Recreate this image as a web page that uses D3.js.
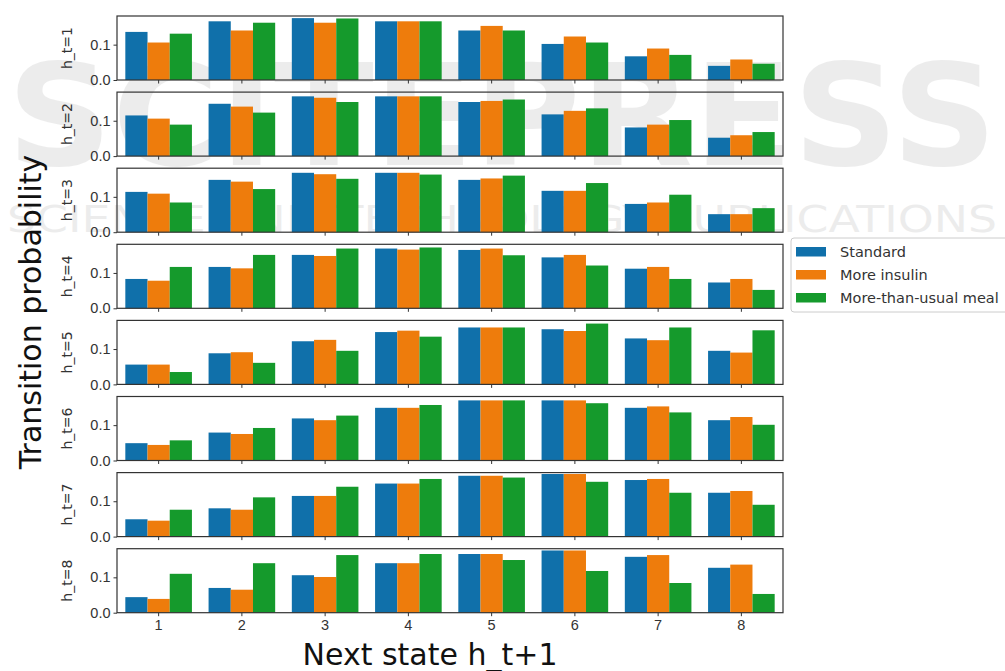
<!DOCTYPE html>
<html>
<head>
<meta charset="utf-8">
<script src="https://cdn.jsdelivr.net/npm/d3@7"></script>
<style>
  body { margin: 0; background: #fff; }
  svg { font-family: "DejaVu Sans", sans-serif; }
</style>
</head>
<body>
<div class="outer-container"></div>
<script>
// next-state categories and current-state panels
const states = ['1', '2', '3', '4', '5', '6', '7', '8']
const panels = ['h_t=1', 'h_t=2', 'h_t=3', 'h_t=4', 'h_t=5', 'h_t=6', 'h_t=7', 'h_t=8']
const seriesNames = ['Standard', 'More insulin', 'More-than-usual meal']
const yTicks = [0.0, 0.1]

// one row per panel, one value per next state
const standard = [
  [0.136, 0.166, 0.175, 0.166, 0.140, 0.102, 0.067, 0.040],
  [0.115, 0.148, 0.169, 0.169, 0.153, 0.118, 0.081, 0.052],
  [0.114, 0.148, 0.168, 0.168, 0.148, 0.117, 0.080, 0.051],
  [0.083, 0.117, 0.151, 0.169, 0.165, 0.144, 0.112, 0.073],
  [0.056, 0.088, 0.122, 0.148, 0.161, 0.156, 0.130, 0.095],
  [0.049, 0.079, 0.119, 0.149, 0.170, 0.170, 0.149, 0.114],
  [0.049, 0.080, 0.115, 0.150, 0.172, 0.177, 0.160, 0.124],
  [0.044, 0.070, 0.106, 0.140, 0.166, 0.176, 0.158, 0.127]
]
const moreInsulin = [
  [0.106, 0.140, 0.162, 0.166, 0.153, 0.123, 0.089, 0.058],
  [0.106, 0.140, 0.165, 0.169, 0.156, 0.128, 0.089, 0.059],
  [0.109, 0.143, 0.164, 0.168, 0.152, 0.117, 0.084, 0.051],
  [0.078, 0.113, 0.148, 0.166, 0.169, 0.151, 0.117, 0.083],
  [0.056, 0.091, 0.126, 0.152, 0.161, 0.151, 0.125, 0.090],
  [0.044, 0.075, 0.114, 0.149, 0.170, 0.170, 0.153, 0.123],
  [0.045, 0.076, 0.115, 0.150, 0.172, 0.177, 0.163, 0.129],
  [0.039, 0.065, 0.101, 0.140, 0.166, 0.176, 0.163, 0.136]
]
const moreMeal = [
  [0.131, 0.162, 0.174, 0.166, 0.140, 0.106, 0.071, 0.046],
  [0.089, 0.123, 0.153, 0.169, 0.160, 0.135, 0.102, 0.068],
  [0.084, 0.122, 0.151, 0.163, 0.160, 0.139, 0.106, 0.068],
  [0.117, 0.151, 0.169, 0.172, 0.150, 0.121, 0.083, 0.052],
  [0.035, 0.061, 0.095, 0.135, 0.161, 0.172, 0.161, 0.153],
  [0.057, 0.092, 0.127, 0.157, 0.170, 0.162, 0.136, 0.101],
  [0.076, 0.111, 0.141, 0.163, 0.167, 0.155, 0.124, 0.090],
  [0.110, 0.140, 0.163, 0.166, 0.149, 0.118, 0.084, 0.053]
]

const w = 1005
const h = 671
const left = 117
const right = 783
const top0 = 16
const pitch = 76.1
const panelH = 64
const colors = ['#1070aa', '#ee7c0c', '#159a2c']
const seriesData = [standard, moreInsulin, moreMeal]

const svg = d3.select('.outer-container')
              .append('svg')
              .attr('width', w)
              .attr('height', h)

// faint publisher watermark behind the chart
const wm = svg.append('g').attr('fill', '#000').attr('opacity', 0.07)
wm.append('text')
  .attr('x', 502).attr('y', 165)
  .attr('text-anchor', 'middle')
  .attr('font-size', 140)
  .attr('font-weight', 'bold')
  .attr('textLength', 990)
  .attr('lengthAdjust', 'spacingAndGlyphs')
  .text('SCITEPRESS')
wm.append('text')
  .attr('x', 502).attr('y', 232)
  .attr('text-anchor', 'middle')
  .attr('font-size', 38)
  .attr('textLength', 990)
  .attr('lengthAdjust', 'spacingAndGlyphs')
  .text('SCIENCE AND TECHNOLOGY PUBLICATIONS')

const xScale = d3.scaleBand()
                 .domain(states)
                 .range([left, right])
                 .paddingInner(0.2)
                 .paddingOuter(0.1)

const subScale = d3.scaleBand()
                   .domain(seriesNames)
                   .range([0, xScale.bandwidth()])

panels.forEach((name, p) => {
  const y0 = top0 + p * pitch
  const yScale = d3.scaleLinear()
                   .domain([0, 0.181])
                   .range([y0 + panelH, y0])

  const g = svg.append('g')

  seriesNames.forEach((s, si) => {
    g.selectAll('rect.s' + si)
     .data(seriesData[si][p])
     .enter()
     .append('rect')
     .attr('class', 's' + si)
     .attr('x', (d, i) => xScale(states[i]) + subScale(s))
     .attr('y', d => yScale(d))
     .attr('width', subScale.bandwidth())
     .attr('height', d => yScale(0) - yScale(d))
     .attr('fill', colors[si])
  })

  const yAxis = d3.axisLeft(yScale)
                  .tickValues(yTicks)
                  .tickFormat(d3.format('.1f'))
                  .tickSize(3.5)
                  .tickPadding(3)
  const ya = g.append('g')
              .attr('transform', 'translate(' + left + ', 0)')
              .call(yAxis)
  ya.select('.domain').remove()
  ya.selectAll('text').attr('font-size', 14.5).attr('fill', '#333')
  ya.selectAll('line').attr('stroke', '#333')

  const xAxis = d3.axisBottom(xScale)
                  .tickSize(3.5)
                  .tickPadding(4)
  const xa = g.append('g')
              .attr('transform', 'translate(0, ' + (y0 + panelH) + ')')
              .call(xAxis)
  xa.select('.domain').remove()
  if (p < panels.length - 1) xa.selectAll('text').remove()
  xa.selectAll('text').attr('font-size', 14.5).attr('fill', '#333')
  xa.selectAll('line').attr('stroke', '#333')

  g.append('rect')
   .attr('x', left)
   .attr('y', y0)
   .attr('width', right - left)
   .attr('height', panelH)
   .attr('fill', 'none')
   .attr('stroke', '#333')
   .attr('stroke-width', 1.2)

  g.append('text')
   .attr('transform', 'translate(72, ' + (y0 + panelH / 2) + ') rotate(-90)')
   .attr('text-anchor', 'middle')
   .attr('font-size', 14)
   .attr('fill', '#333')
   .text(name)
})

svg.append('text')
   .attr('transform', 'translate(41, 312) rotate(-90)')
   .attr('text-anchor', 'middle')
   .attr('font-size', 30)
   .attr('fill', '#111')
   .text('Transition probability')

svg.append('text')
   .attr('x', 430)
   .attr('y', 665)
   .attr('text-anchor', 'middle')
   .attr('font-size', 30)
   .attr('fill', '#111')
   .text('Next state h_t+1')

// legend
const legend = svg.append('g').attr('transform', 'translate(791, 238)')
legend.append('rect')
      .attr('width', 230)
      .attr('height', 74)
      .attr('rx', 3)
      .attr('fill', '#fff')
      .attr('stroke', '#ccc')
seriesNames.forEach((s, i) => {
  legend.append('rect')
        .attr('x', 5)
        .attr('y', 9 + i * 23)
        .attr('width', 30)
        .attr('height', 9.5)
        .attr('fill', colors[i])
  legend.append('text')
        .attr('x', 49)
        .attr('y', 19 + i * 23)
        .attr('font-size', 14.5)
        .attr('fill', '#333')
        .text(s)
})
</script>
</body>
</html>
